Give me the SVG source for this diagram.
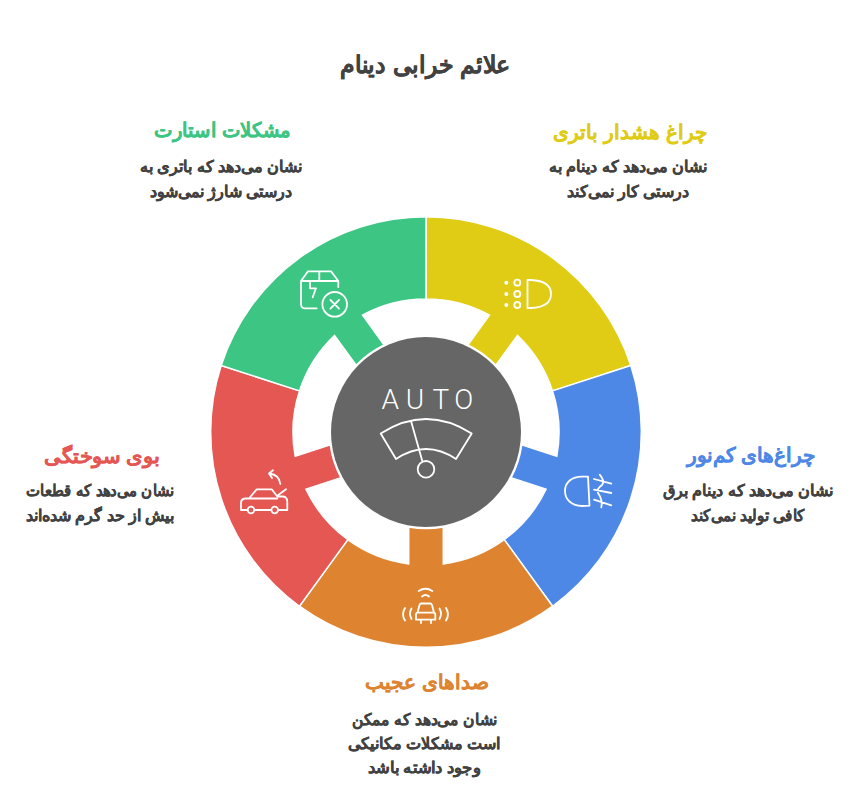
<svg xmlns="http://www.w3.org/2000/svg" width="864" height="785" viewBox="0 0 864 785">
<style>
text{font-family:"Liberation Sans",Arial,sans-serif;font-weight:700;text-anchor:middle;direction:rtl;stroke-width:.25}
.t{font-size:24px;fill:#424242;stroke:#424242}
.h{font-size:20px}
.b{font-size:16px;fill:#424242;stroke:#424242}
.y{fill:#E0CB15;stroke:#E0CB15}
.g{fill:#3CC583;stroke:#3CC583}
.l{fill:#4E88E7;stroke:#4E88E7}
.r{fill:#E55753;stroke:#E55753}
.o{fill:#DE8431;stroke:#DE8431}
.seg{stroke:#fff;stroke-width:1.5}
.i{fill:none;stroke:#fff;stroke-width:1.8;stroke-linecap:round;stroke-linejoin:round}
.d{fill:#fff}
.a{font-family:Roboto,sans-serif;font-weight:300;font-size:28px;fill:#fff;direction:ltr;text-anchor:start;stroke:none}
</style>
<defs><path id="s" d="M-126.6-174.2A215.5 215.5 0 0 1 126.6-174.2L78.2-107.6A133 133 0 0 0 17.3-131.9L17.3-95A96.5 96.5 0 0 0-17.3-95L-17.3-131.9A133 133 0 0 0-78.2-107.6Z"/></defs>
<rect width="864" height="785" fill="#fff"/>
<text class="t" x="425" y="73" textLength="170" lengthAdjust="spacingAndGlyphs">علائم خرابی دینام</text>
<g id="segments" transform="translate(426 432)">
<use href="#s" class="seg" fill="#E0CB15" transform="rotate(36)"/>
<use href="#s" class="seg" fill="#4E88E7" transform="rotate(108)"/>
<use href="#s" class="seg" fill="#DE8431" transform="rotate(180)"/>
<use href="#s" class="seg" fill="#E55753" transform="rotate(252)"/>
<use href="#s" class="seg" fill="#3CC583" transform="rotate(324)"/>
</g>
<g id="center"><circle cx="426" cy="432" r="95" fill="#666"/>
<text class="a" transform="translate(381 409)" x="0.5 24.7 51.5 73.3">AUTO</text>
<path class="i" d="M380.7 433.5Q426 404.5 471.7 433.5L456 459Q426 439 396 459ZM411 421L422.3 461"/><circle class="i" cx="426" cy="469.3" r="8.3"/></g>
<g id="n1"><path class="i" d="M527.5 280H531Q551 281 551 294Q551 307 531 308H527.5Z"/><circle class="i" cx="517.3" cy="282.7" r="3"/><circle class="i" cx="517.3" cy="294" r="3"/><circle class="i" cx="517.3" cy="305" r="3"/><circle class="d" cx="506.3" cy="282.7" r="2"/><circle class="d" cx="506.3" cy="294" r="2"/><circle class="d" cx="506.3" cy="305" r="2"/>
<text class="h y" x="630" y="139">چراغ هشدار باتری</text><text class="b" x="628" y="172">نشان می‌دهد که دینام به</text><text class="b" x="628" y="197">درستی کار نمی‌کند</text></g>
<g id="n2"><path class="i" d="M301 281L308 271.3H331L338.3 281H301V304Q301 308.3 305 308.3H316.7M338.3 281V287M319.3 271.3V281M310 282.3V288.3H316L312.7 297.3M330.4 300L339 308.6M339 300L330.4 308.6"/><circle class="i" cx="334.7" cy="304.3" r="12.3"/>
<text class="h g" x="222.500" y="137" textLength="137" lengthAdjust="spacingAndGlyphs">مشکلات استارت</text><text class="b" x="221" y="172">نشان می‌دهد که باتری به</text><text class="b" x="221" y="197">درستی شارژ نمی‌شود</text></g>
<g id="n3"><path class="i" d="M588 476.7H582C572 476.7 565 482 565 491C565 500 572 505.7 582 506L589.5 505.7ZM594 479L611.3 483.7M594 489.7L611.3 493M594 499.7L611.3 505.3M599.7 474.7Q605 481 602.3 484.7Q596 489 598 493Q603 500 601.3 507.3"/>
<text class="h l" x="751" y="462">چراغ‌های کم‌نور</text><text class="b" x="748" y="496">نشان می‌دهد که دینام برق</text><text class="b" x="748" y="521" textLength="114" lengthAdjust="spacingAndGlyphs">کافی تولید نمی‌کند</text></g>
<g id="n4"><path class="i" d="M247.5 510H241V503Q241 498.5 246 498.5H249L256.7 489.3H271.7L277.3 496.5H283Q287.3 497 287.3 502V510H278.5M254.5 510H271M249 498.5H277.3M277.3 495.7L286 489.3M280.3 484Q279.5 475 269.5 473.5M273 470.3L269 473.5L272 478"/><circle class="i" cx="251" cy="510" r="3.3"/><circle class="i" cx="274.7" cy="510" r="3.3"/>
<text class="h r" x="102" y="463" textLength="116" lengthAdjust="spacingAndGlyphs">بوی سوختگی</text><text class="b" x="100" y="496" textLength="148" lengthAdjust="spacingAndGlyphs">نشان می‌دهد که قطعات</text><text class="b" x="100" y="521">بیش از حد گرم شده‌اند</text></g>
<g id="n5"><path class="i" d="M418.7 591Q425.5 586.5 432.3 591M422 596.5Q425.5 593.5 429 596.5M417.5 612.7L419.5 605Q420 603.5 421.500 603.5H430Q431.5 603.5 432 605L434 612.7M418 612.7H433.5Q435.3 612.7 435.3 614.5V619.7H416V614.5Q416 612.7 418 612.7ZM421 619.7V623M431 619.7V623M411.5 608.5Q408.5 613.5 411.5 619M405 608Q401 614.5 405 620.5M439.5 608.5Q442.5 613.5 439.5 619M446 608Q450 614.5 446 620.5"/>
<text class="h o" x="427" y="689">صداهای عجیب</text><text class="b" x="424.500" y="724.500" textLength="145" lengthAdjust="spacingAndGlyphs">نشان می‌دهد که ممکن</text><text class="b" x="424" y="749">است مشکلات مکانیکی</text><text class="b" x="424.500" y="772.500" textLength="113" lengthAdjust="spacingAndGlyphs">وجود داشته باشد</text></g>
</svg>
